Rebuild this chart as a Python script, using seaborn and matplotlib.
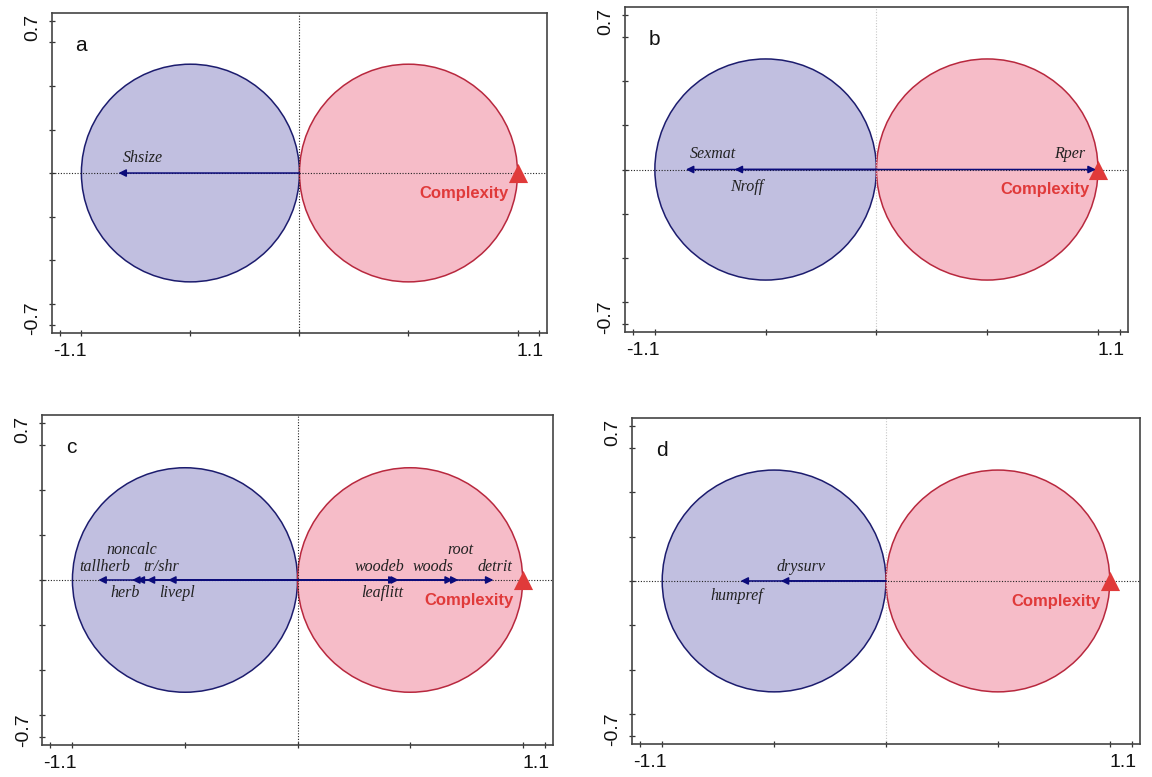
import numpy as np
import pandas as pd
import matplotlib
matplotlib.use("Agg")
import matplotlib.pyplot as plt
import matplotlib.transforms as mtransforms
from matplotlib.patches import Circle
import seaborn as sns

# ---- data ----
panels = ["a", "b", "c", "d"]

traits_a = ["Shsize"]
load_a = [-0.83]

traits_b = ["Sexmat", "Nroff", "Rper"]
load_b = [-0.86, -0.64, 0.99]

traits_c = ["tallherb", "herb", "noncalc", "tr/shr", "livepl",
            "woodeb", "leaflitt", "woods", "root", "detrit"]
load_c = [-0.885, -0.735, -0.715, -0.67, -0.575,
          0.45, 0.44, 0.69, 0.715, 0.87]

traits_d = ["humpref", "drysurv"]
load_d = [-0.65, -0.47]

complexity_x = [1.0, 1.0, 1.0, 1.0]
circle_centers = [-0.5, 0.5]
circle_radius = 0.5

# ---- layout: label offsets (dx, dy) relative to arrow tips ----
offs_a = [(0.11, 0.07)]
offs_b = [(0.12, 0.068), (0.055, -0.077), (-0.12, 0.068)]
offs_c = [(0.03, 0.058), (-0.03, -0.058), (-0.02, 0.133), (0.065, 0.058),
          (0.04, -0.058), (-0.086, 0.058), (-0.065, -0.058), (-0.09, 0.058),
          (0.01, 0.133), (0.006, 0.058)]
offs_d = [(-0.015, -0.067), (0.09, 0.063)]

positions = [
    [0.0451, 0.5714, 0.4297, 0.4118],
    [0.5425, 0.5727, 0.4366, 0.4183],
    [0.0365, 0.0412, 0.4436, 0.4247],
    [0.5486, 0.0425, 0.4410, 0.4196],
]
vline_col = ["#222222", "#c8c8c8", "#222222", "#c8c8c8"]

navy = "#0b0b7a"
blue_fill = "#c1bfe0"
blue_edge = "#1c1c6e"
red_fill = "#f6bcc8"
red_edge = "#b8283e"
red = "#e03a3a"

sns.set_theme(style="white")
plt.rcParams["font.family"] = ["Liberation Sans", "DejaVu Sans"]

fig = plt.figure(figsize=(11.52, 7.77), dpi=100)

all_traits = [traits_a, traits_b, traits_c, traits_d]
all_loads = [load_a, load_b, load_c, load_d]
all_offs = [offs_a, offs_b, offs_c, offs_d]

for i, p in enumerate(panels):
    ax = fig.add_axes(positions[i])
    ax.set_xlim(-1.135, 1.135)
    ax.set_ylim(-0.735, 0.735)

    # equilibrium circles
    ax.add_patch(Circle((circle_centers[0], 0), circle_radius, facecolor=blue_fill,
                        edgecolor=blue_edge, lw=1.1, zorder=1))
    ax.add_patch(Circle((circle_centers[1], 0), circle_radius, facecolor=red_fill,
                        edgecolor=red_edge, lw=1.1, zorder=1))

    ax.axhline(0, color="#222222", ls=(0, (1, 1.5)), lw=0.8, zorder=2)
    ax.axvline(0, color=vline_col[i], ls=(0, (1, 1.5)), lw=0.8, zorder=2)

    # supplementary variable (drawn under the trait arrows)
    df = pd.DataFrame({"x": [complexity_x[i]], "y": [0.0]})
    sns.scatterplot(data=df, x="x", y="y", marker="^", s=190, color=red,
                    linewidth=0, ax=ax, zorder=2.5)
    ax.text(0.96, -0.092, "Complexity", ha="right", va="center", fontsize=12,
            fontweight="bold", color=red, zorder=4)

    # trait arrows
    for name, x, (dx, dy) in zip(all_traits[i], all_loads[i], all_offs[i]):
        ax.annotate("", xy=(x, 0), xytext=(0, 0),
                    arrowprops=dict(arrowstyle="-|>", color=navy, lw=1.1,
                                    mutation_scale=11, shrinkA=0, shrinkB=0),
                    zorder=3)
        ax.text(x + dx, dy, name, ha="center", va="center", fontsize=11.5,
                style="italic", family=["Liberation Serif", "DejaVu Serif"],
                color="#222222", zorder=4)

    ax.text(0.058, 0.9, p, transform=ax.transAxes, ha="center", va="center",
            fontsize=15, color="#111111")

    # axes styling
    ax.set_xlabel("")
    ax.set_ylabel("")
    ax.set_xticks([-1.1, 1.1])
    ax.set_xticklabels(["-1.1", "1.1"])
    ax.set_yticks([-0.7, 0.7])
    ax.set_yticklabels(["-0.7", "0.7"], rotation=90, va="center")
    ax.set_xticks([-1.0, -0.5, 0, 0.5, 1.0], minor=True)
    ax.set_yticks([-0.6, -0.4, -0.2, 0, 0.2, 0.4, 0.6], minor=True)
    ax.tick_params(which="both", direction="inout", length=5, width=0.9,
                   color="#333333", labelsize=14, labelcolor="#111111",
                   bottom=True, left=True, pad=5)
    for sp in ax.spines.values():
        sp.set_color("#444444")
        sp.set_linewidth(1.2)

    # nudge the end labels inward like the original
    shifts_x = [7.5, -6.5]
    for lab, sx in zip(ax.get_xticklabels(), shifts_x):
        lab.set_transform(lab.get_transform() +
                          mtransforms.ScaledTranslation(sx / 72, 0, fig.dpi_scale_trans))
    shifts_y = [5.0, -5.0]
    for lab, sy in zip(ax.get_yticklabels(), shifts_y):
        lab.set_transform(lab.get_transform() +
                          mtransforms.ScaledTranslation(0, sy / 72, fig.dpi_scale_trans))

fig.savefig("out.png", dpi=100, facecolor="white")
